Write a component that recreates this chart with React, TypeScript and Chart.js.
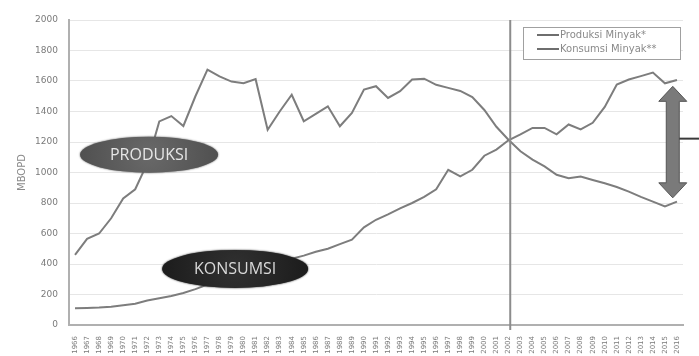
import { useEffect, useRef } from "react";
import { Chart, registerables } from "chart.js";

Chart.register(...registerables);

const years = [
  "1966", "1967", "1968", "1969", "1970", "1971", "1972", "1973", "1974", "1975",
  "1976", "1977", "1978", "1979", "1980", "1981", "1982", "1983", "1984", "1985",
  "1986", "1987", "1988", "1989", "1990", "1991", "1992", "1993", "1994", "1995",
  "1996", "1997", "1998", "1999", "2000", "2001", "2002", "2003", "2004", "2005",
  "2006", "2007", "2008", "2009", "2010", "2011", "2012", "2013", "2014", "2015",
  "2016",
];

const produksi = [
  460, 565, 600, 700, 830, 890, 1060, 1335, 1370, 1305,
  1500, 1675, 1630, 1596, 1585, 1612, 1280, 1400, 1510, 1336,
  1385, 1434, 1303, 1390, 1544, 1566, 1489, 1533, 1610, 1615,
  1575, 1555, 1535, 1495, 1410, 1300, 1215, 1139, 1084, 1040,
  985, 962, 973, 951, 929, 905, 875, 840, 809, 777,
  809,
];

const konsumsi = [
  110, 112, 115, 120, 130, 140, 160, 175, 190, 210,
  235, 265, 295, 325, 355, 380, 400, 415, 435, 455,
  480, 500, 530, 560, 640, 690, 725, 765, 800, 840,
  890, 1018, 975, 1018, 1110, 1150, 1211, 1250, 1292, 1292,
  1250, 1315, 1282, 1326, 1430, 1577, 1610, 1632, 1655, 1585,
  1607,
];

const seriesLabels = ["Produksi Minyak*", "Konsumsi Minyak**"];
const yTicks = [0, 200, 400, 600, 800, 1000, 1200, 1400, 1600, 1800, 2000];
const yTitle = "MBOPD";
const crossYear = "2002";
const labelProduksi = "PRODUKSI";
const labelKonsumsi = "KONSUMSI";

const LINE_COLOR = "#7d7d7d";
const FONT = "'DejaVu Sans', sans-serif";

function drawEllipse(
  ctx: CanvasRenderingContext2D,
  cx: number,
  cy: number,
  rx: number,
  ry: number,
  inner: string,
  outer: string,
  text: string,
  textColor: string
) {
  ctx.save();
  const g = ctx.createRadialGradient(cx, cy, 2, cx, cy, rx);
  g.addColorStop(0, inner);
  g.addColorStop(1, outer);
  ctx.shadowColor = outer;
  ctx.shadowBlur = 2;
  ctx.fillStyle = g;
  ctx.beginPath();
  ctx.ellipse(cx, cy, rx, ry, 0, 0, Math.PI * 2);
  ctx.fill();
  ctx.shadowBlur = 0;
  ctx.fillStyle = textColor;
  ctx.font = "16px 'Open Sans', sans-serif";
  ctx.textAlign = "center";
  ctx.textBaseline = "middle";
  ctx.fillText(text, cx, cy + 1);
  ctx.restore();
}

const annotationPlugin = {
  id: "annotations",
  afterDatasetsDraw(chart: any) {
    const { ctx, chartArea, scales } = chart;
    const xs = scales.x;
    const ys = scales.y;
    ctx.save();

    // vertical separator line
    const vx = xs.getPixelForValue(years.indexOf(crossYear) + 0.15);
    ctx.strokeStyle = "#8c8c8c";
    ctx.lineWidth = 2;
    ctx.beginPath();
    ctx.moveTo(vx, chartArea.top);
    ctx.lineTo(vx, chartArea.bottom + 5);
    ctx.stroke();

    // labels in ellipses
    drawEllipse(
      ctx,
      xs.getPixelForValue(6.15),
      ys.getPixelForValue(1117),
      69,
      18,
      "#686868",
      "#505050",
      labelProduksi,
      "#e6e6e6"
    );
    drawEllipse(
      ctx,
      xs.getPixelForValue(13.3),
      ys.getPixelForValue(368),
      73,
      19,
      "#303030",
      "#1c1c1c",
      labelKonsumsi,
      "#d9d9d9"
    );

    // double arrow
    const ax = xs.getPixelForValue(49.65);
    const top = ys.getPixelForValue(1565);
    const bot = ys.getPixelForValue(834);
    const headH = 15;
    const headW = 14;
    const bodyW = 6.5;
    ctx.beginPath();
    ctx.moveTo(ax, top);
    ctx.lineTo(ax + headW, top + headH);
    ctx.lineTo(ax + bodyW, top + headH);
    ctx.lineTo(ax + bodyW, bot - headH);
    ctx.lineTo(ax + headW, bot - headH);
    ctx.lineTo(ax, bot);
    ctx.lineTo(ax - headW, bot - headH);
    ctx.lineTo(ax - bodyW, bot - headH);
    ctx.lineTo(ax - bodyW, top + headH);
    ctx.lineTo(ax - headW, top + headH);
    ctx.closePath();
    ctx.fillStyle = "#7a7a7a";
    ctx.fill();
    ctx.strokeStyle = "#555555";
    ctx.lineWidth = 1;
    ctx.stroke();

    // connector line to the right
    const my = ys.getPixelForValue(1222);
    ctx.strokeStyle = "#3a3a3a";
    ctx.lineWidth = 2;
    ctx.beginPath();
    ctx.moveTo(ax + bodyW, my);
    ctx.lineTo(chart.width, my);
    ctx.stroke();

    // legend box
    const bx = chartArea.right - 160;
    const by = chartArea.top + 7;
    const bw = 157;
    const bh = 32;
    ctx.fillStyle = "#ffffff";
    ctx.fillRect(bx, by, bw, bh);
    ctx.strokeStyle = "#a0a0a0";
    ctx.lineWidth = 1;
    ctx.strokeRect(bx + 0.5, by + 0.5, bw, bh);
    ctx.font = "10px " + FONT;
    ctx.textBaseline = "middle";
    ctx.textAlign = "left";
    chart.data.datasets.forEach((ds: any, i: number) => {
      const ly = by + 8 + i * 14;
      ctx.strokeStyle = "#6e6e6e";
      ctx.lineWidth = 2;
      ctx.beginPath();
      ctx.moveTo(bx + 14, ly);
      ctx.lineTo(bx + 36, ly);
      ctx.stroke();
      ctx.fillStyle = "#8a8a8a";
      ctx.fillText(ds.label, bx + 37, ly);
    });

    ctx.restore();
  },
};

export default function App() {
  const canvasRef = useRef<HTMLCanvasElement | null>(null);

  useEffect(() => {
    if (!canvasRef.current) return;
    const chart = new Chart(canvasRef.current, {
      type: "line",
      data: {
        labels: years,
        datasets: [
          {
            label: seriesLabels[0],
            data: produksi,
            borderColor: LINE_COLOR,
            borderWidth: 2,
            pointRadius: 0,
            tension: 0,
            fill: false,
          },
          {
            label: seriesLabels[1],
            data: konsumsi,
            borderColor: LINE_COLOR,
            borderWidth: 2,
            pointRadius: 0,
            tension: 0,
            fill: false,
          },
        ],
      },
      options: {
        animation: false,
        responsive: true,
        maintainAspectRatio: false,
        layout: { padding: { top: 20, right: 16, left: 0, bottom: 0 } },
        plugins: {
          legend: { display: false },
          tooltip: { enabled: false },
          title: { display: false },
        },
        scales: {
          x: {
            type: "category",
            offset: true,
            grid: { display: false },
            border: { display: true, color: "#b0b0b0", width: 2 },
            ticks: {
              autoSkip: false,
              minRotation: 90,
              maxRotation: 90,
              padding: 3,
              color: "#7a7a7a",
              font: { family: FONT, size: 7 },
            },
            afterFit: (scale: any) => {
              scale.height = 31;
            },
          },
          y: {
            min: 0,
            max: 2000,
            afterBuildTicks: (scale: any) => {
              scale.ticks = yTicks.map((v) => ({ value: v }));
            },
            grid: { color: "#e6e6e6", lineWidth: 1, drawTicks: false },
            border: { display: true, color: "#b0b0b0", width: 2 },
            ticks: {
              padding: 11,
              color: "#7a7a7a",
              font: { family: FONT, size: 9 },
              callback: (value: any) => String(value),
            },
            title: {
              display: true,
              text: yTitle,
              color: "#8a8a8a",
              font: { family: FONT, size: 10 },
              padding: { top: 16, bottom: 0 },
            },
            afterFit: (scale: any) => {
              scale.width = 69;
            },
          },
        },
      },
      plugins: [annotationPlugin],
    });
    return () => chart.destroy();
  }, []);

  return (
    <div
      style={{
        position: "absolute",
        left: 0,
        top: 0,
        width: 699,
        height: 356,
        background: "#ffffff",
      }}
    >
      <canvas ref={canvasRef} />
    </div>
  );
}
